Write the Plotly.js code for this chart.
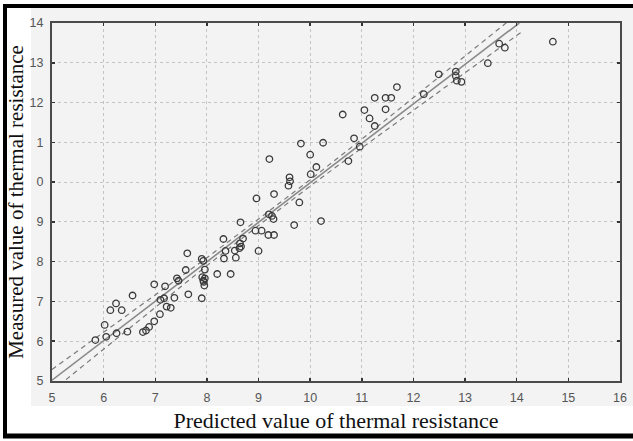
<!DOCTYPE html>
<html>
<head>
<meta charset="utf-8">
<script src="https://cdn.plot.ly/plotly-3.0.1.min.js"></script>
<style>html,body{margin:0;padding:0;background:#fff;}#chart{width:633px;height:441px;}</style>
</head>
<body>
<div id="chart"></div>
<script>
// Predicted (x) vs measured (y) thermal resistance
var predicted = [
  5.84, 6.02, 6.05, 6.13, 6.24, 6.25, 6.35, 6.46, 6.56, 6.76, 6.82, 6.88, 6.98, 6.98,
  7.09, 7.10, 7.17, 7.19, 7.22, 7.30, 7.37, 7.42, 7.45, 7.59, 7.62, 7.64,
  7.90, 7.93, 7.96, 7.96, 7.91, 7.94, 7.95, 7.93, 7.90,
  8.20, 8.46, 8.32, 8.33, 8.36, 8.54, 8.56, 8.65, 8.70, 8.64, 8.66, 8.63,
  8.94, 8.96, 9.00, 9.06, 9.19, 9.21, 9.20, 9.26, 9.29, 9.30, 9.30,
  9.58, 9.60, 9.61, 9.69, 9.79, 9.82, 10.00, 10.01, 10.12, 10.21, 10.25,
  10.63, 10.74, 10.85, 10.96, 11.05, 11.15, 11.25, 11.25, 11.46, 11.46, 11.57, 11.68,
  12.20, 12.49, 12.82, 12.82, 12.84, 12.93, 13.44, 13.66, 13.77, 14.70
];
var measured = [
  6.03, 6.41, 6.11, 6.78, 6.95, 6.20, 6.78, 6.24, 7.15, 6.23, 6.27, 6.36, 6.50, 7.43,
  6.68, 7.04, 7.08, 7.38, 6.87, 6.84, 7.09, 7.58, 7.52, 7.79, 8.21, 7.18,
  8.07, 8.02, 7.80, 7.58, 7.61, 7.49, 7.40, 7.52, 7.08,
  7.69, 7.69, 8.57, 8.08, 8.27, 8.28, 8.10, 8.99, 8.58, 8.46, 8.38, 8.34,
  8.78, 9.59, 8.27, 8.78, 8.67, 10.58, 9.19, 9.15, 9.07, 8.67, 9.70,
  9.91, 10.12, 10.02, 8.92, 9.49, 10.97, 10.69, 10.20, 10.38, 9.02, 10.99,
  11.70, 10.53, 11.10, 10.89, 11.81, 11.60, 12.12, 11.41, 11.83, 12.12, 12.12, 12.39,
  12.21, 12.71, 12.78, 12.67, 12.55, 12.52, 12.99, 13.48, 13.38, 13.53
];
// fitted line and confidence band
var fitX = [5, 14.05];
var fitY = [5.02, 14.0];
var bandX = [5, 6, 7, 8, 9, 10, 11, 12, 13, 14.1];
var bandUpper = [5.29, 6.22, 7.15, 8.10, 9.07, 10.06, 11.08, 12.13, 13.17, 14.32];
var bandLower = [4.75, 5.80, 6.85, 7.90, 8.91, 9.90, 10.86, 11.81, 12.75, 13.78];
var xTickVals = [5, 6, 7, 8, 9, 10, 11, 12, 13, 14, 15, 16];
var xTickText = ["5", "6", "7", "8", "9", "10", "11", "12", "13", "14", "15", "16"];
var yTickVals = [5, 6, 7, 8, 9, 10, 11, 12, 13, 14];
var yTickText = ["5", "6", "7", "8", "9", "0", "1", "12", "13", "14"];

var W = 633, H = 441;
var M = {l: 52, r: 13, t: 23, b: 60, pad: 0};
function px(x) { return (x - M.l) / (W - M.l - M.r); }
function py(y) { return (H - M.b - y) / (H - M.t - M.b); }

var traces = [
  {x: bandX, y: bandUpper, mode: 'lines', type: 'scatter', hoverinfo: 'skip',
   line: {color: '#7a7a7a', width: 1.2, dash: '5px,4px'}},
  {x: bandX, y: bandLower, mode: 'lines', type: 'scatter', hoverinfo: 'skip',
   line: {color: '#7a7a7a', width: 1.2, dash: '5px,4px'}},
  {x: fitX, y: fitY, mode: 'lines', type: 'scatter',
   line: {color: '#8a8a8a', width: 1.6}},
  {x: predicted, y: measured, mode: 'markers', type: 'scatter', cliponaxis: true,
   marker: {symbol: 'circle-open', size: 6.5, color: '#3a3a3a', line: {width: 1.3, color: '#3a3a3a'}}}
];

var axisCommon = {
  showline: true, linecolor: '#4a4a4a', linewidth: 2, mirror: 'ticks',
  ticks: 'inside', ticklen: 3, tickwidth: 1.5, tickcolor: '#333',
  showgrid: true, gridcolor: '#c4c4c4', gridwidth: 1, griddash: 'dot',
  zeroline: false, fixedrange: true,
  tickfont: {family: 'Arial, "Liberation Sans", sans-serif', size: 12.5, color: '#555'}
};

var layout = {
  width: W, height: H,
  margin: M,
  paper_bgcolor: '#ffffff', plot_bgcolor: '#ffffff',
  showlegend: false,
  xaxis: Object.assign({}, axisCommon, {
    range: [5, 16], tickmode: 'array', tickvals: xTickVals, ticktext: xTickText,
    ticklabelstandoff: 4,
    title: {text: 'Predicted value of thermal resistance', standoff: 9,
            font: {family: '"Liberation Serif", "Times New Roman", serif', size: 22, color: '#111'}}
  }),
  yaxis: Object.assign({}, axisCommon, {
    range: [5, 14], tickmode: 'array', tickvals: yTickVals, ticktext: yTickText,
    ticklabelstandoff: 4,
    title: {text: 'Measured value of thermal resistance', standoff: 0,
            font: {family: '"Liberation Serif", "Times New Roman", serif', size: 21, color: '#111'}}
  }),
  shapes: [
    // light grey graph background behind axes area
    {type: 'rect', xref: 'paper', yref: 'paper', layer: 'below',
     x0: px(31), x1: px(640), y0: py(8), y1: py(406),
     fillcolor: '#f3f3f3', line: {width: 0}},
    // thick black frame (top, left, bottom)
    {type: 'line', xref: 'paper', yref: 'paper', x0: px(3), x1: px(640), y0: py(6), y1: py(6),
     line: {color: '#000', width: 4}},
    {type: 'line', xref: 'paper', yref: 'paper', x0: px(5), x1: px(5), y0: py(4), y1: py(438),
     line: {color: '#000', width: 4}},
    {type: 'line', xref: 'paper', yref: 'paper', x0: px(3), x1: px(640), y0: py(436), y1: py(436),
     line: {color: '#000', width: 5}}
  ]
};

Plotly.newPlot('chart', traces, layout, {staticPlot: true, displayModeBar: false});
</script>
</body>
</html>
